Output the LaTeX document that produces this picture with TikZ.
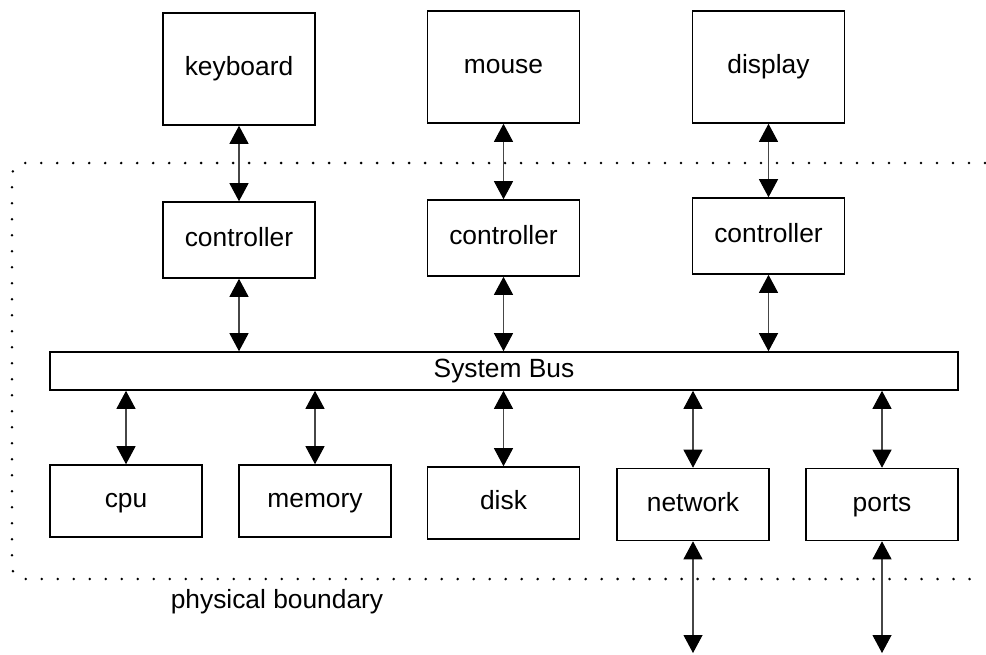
\documentclass[tikz,border=0pt]{standalone}
\usepackage{fontspec}
\setmainfont{Liberation Sans}
\usetikzlibrary{arrows.meta}
\tikzset{>={Triangle[width=3.8mm,length=3.6mm,color=black]}}
\definecolor{LinkColor}{RGB}{70,70,70}
\tikzset{
	unit/.style={draw,line width=0.9pt,inner sep=0pt,minimum width=3.04cm,text height=0.98em,text depth=0.2em},
	device/.style={unit,minimum height=2.24cm},
	ctrl/.style={unit,minimum height=1.52cm},
	part/.style={unit,minimum height=1.44cm},
	link/.style={<->,LinkColor,line width=0.6pt},
	boundary/.style={line width=1.6pt,dash pattern=on 0pt off 0.32cm,line cap=round}
}

\begin{document}
\begin{tikzpicture}[x=0.02cm,y=-0.02cm,font=\fontsize{15}{18}\selectfont]
		\useasboundingbox (0,0) rectangle (986,654);
		% physical boundary
		\draw[boundary,rounded corners=0.25cm] (985,163) -- (12,163) -- (12,579) -- (985,579);
		\node (boundarylabel) at (277,602) {physical boundary};

		% devices
		\node[device] (keyboard) at (239,69) {keyboard};
		\node[device] (mouse) at (503.5,67) {mouse};
		\node[device] (display) at (768.5,67) {display};

		% controllers
		\node[ctrl] (kbctrl) at (239,240) {controller};
		\node[ctrl] (msctrl) at (503.5,238) {controller};
		\node[ctrl] (dpctrl) at (768.5,236) {controller};

		% bus
		\node[unit,minimum width=18.16cm,minimum height=0.76cm] (bus) at (504,371) {System Bus};

		% parts
		\node[part] (cpu) at (126,501) {cpu};
		\node[part] (memory) at (315,501) {memory};
		\node[part] (disk) at (503.5,503) {disk};
		\node[part] (network) at (693,504.5) {network};
		\node[part] (ports) at (882,504.5) {ports};

		% free ends
		\coordinate (netend) at (693,653);
		\coordinate (portend) at (882,653);

		% links
		\draw[link] (keyboard.south) -- (kbctrl.north);
		\draw[link] (mouse.south) -- (msctrl.north);
		\draw[link] (display.south) -- (dpctrl.north);

		\draw[link] (kbctrl.south) -- (kbctrl.south |- bus.north);
		\draw[link] (msctrl.south) -- (msctrl.south |- bus.north);
		\draw[link] (dpctrl.south) -- (dpctrl.south |- bus.north);

		\draw[link] (bus.south -| cpu.north) -- (cpu.north);
		\draw[link] (bus.south -| memory.north) -- (memory.north);
		\draw[link] (bus.south -| disk.north) -- (disk.north);
		\draw[link] (bus.south -| network.north) -- (network.north);
		\draw[link] (bus.south -| ports.north) -- (ports.north);

		\draw[link] (network.south) -- (netend);
		\draw[link] (ports.south) -- (portend);
	\end{tikzpicture}
\end{document}
